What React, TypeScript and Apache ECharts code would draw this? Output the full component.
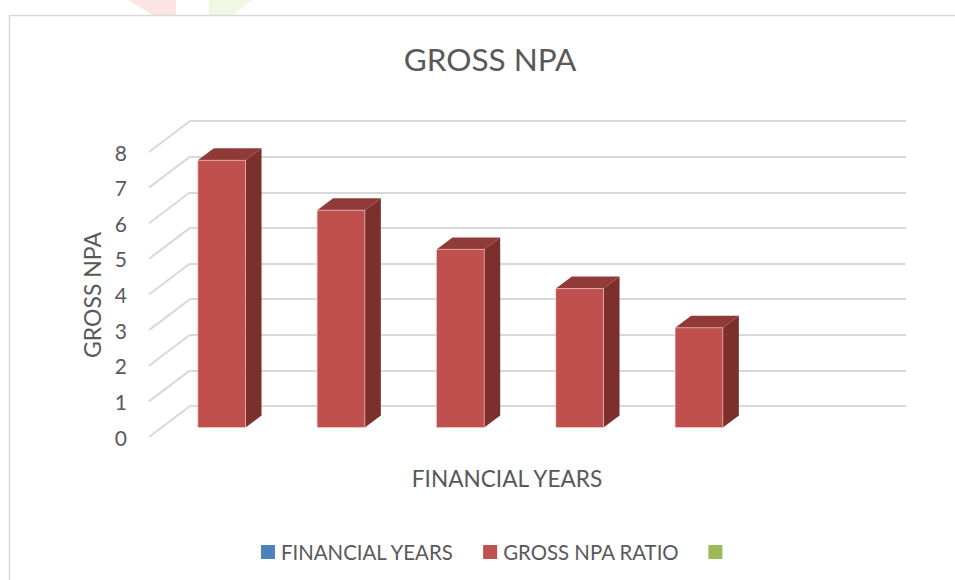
import React, { useEffect, useRef } from "react";
import * as echarts from "echarts";

// ---- data ----
const CATEGORIES = ["FY1", "FY2", "FY3", "FY4", "FY5", "FY6"];
const GROSS_NPA_RATIO = [7.5, 6.1, 5.0, 3.9, 2.8, null];
const Y_TICKS = [0, 1, 2, 3, 4, 5, 6, 7, 8];
const TITLE = "GROSS NPA";
const X_NAME = "FINANCIAL YEARS";
const Y_NAME = "GROSS NPA";
const LEGEND_NAMES = ["FINANCIAL YEARS", "GROSS NPA RATIO", " "];

// ---- style ----
const FONT = "Lato";
const TEXT = "#595959";
const GRID = "#D9D9D9";
const WALL_DX = -41;
const WALL_DY = 31;
const FRONT_DX = -28;
const FRONT_DY = 21.5;
const BAR_DX = 16;
const BAR_DY = -12;
const BAR_FRAC = 0.4;

export default function App() {
  const ref = useRef<HTMLDivElement>(null);
  useEffect(() => {
    const chart = echarts.init(ref.current!, null, { renderer: "svg" });
    const option: any = {
      animation: false,
      backgroundColor: "#fff",
      textStyle: { fontFamily: FONT },
      grid: [
        { left: 190, top: 121, width: 716, height: 285 },
        { left: 149, top: 152, width: 716, height: 285 },
      ],
      xAxis: [
        {
          gridIndex: 0,
          type: "category",
          data: CATEGORIES,
          axisLine: { show: false },
          axisTick: { show: false },
          axisLabel: { show: false },
        },
        {
          gridIndex: 1,
          type: "category",
          data: CATEGORIES,
          show: false,
        },
      ],
      yAxis: [
        {
          gridIndex: 0,
          type: "value",
          min: 0,
          max: 8,
          interval: 1,
          axisLabel: { show: false },
          axisLine: { show: false },
          axisTick: { show: false },
          splitLine: { lineStyle: { color: GRID, width: 2 } },
        },
        {
          gridIndex: 1,
          type: "value",
          min: 0,
          max: 8,
          interval: 1,
          axisLine: { show: false },
          axisTick: { show: false },
          splitLine: { show: false },
          axisLabel: { margin: 22, color: TEXT, fontSize: 21, fontFamily: FONT },
        },
      ],
      legend: {
        left: 261,
        top: 542,
        padding: 0,
        icon: "rect",
        itemWidth: 14,
        itemHeight: 14,
        itemGap: 29,
        textStyle: { color: TEXT, fontSize: 20.4, fontFamily: FONT, padding: [0, 0, 0, 1] },
        data: LEGEND_NAMES,
      },
      series: [
        {
          name: LEGEND_NAMES[0],
          type: "custom",
          color: "#4F81BD",
          itemStyle: { color: "#4F81BD" },
          data: [],
          renderItem: () => ({ type: "group", children: [] }),
        },
        {
          name: "walls",
          type: "custom",
          silent: true,
          data: Y_TICKS.map((v) => [0, v]),
          encode: { x: 0, y: 1 },
          z: 1,
          renderItem: (params: any, api: any) => {
            const p = api.coord([0, api.value(1)]);
            const x0 = params.coordSys.x;
            return {
              type: "line",
              shape: { x1: x0, y1: p[1], x2: x0 + WALL_DX, y2: p[1] + WALL_DY },
              style: { stroke: GRID, lineWidth: 2 },
            };
          },
        },
        {
          name: LEGEND_NAMES[1],
          type: "custom",
          color: "#C0504D",
          itemStyle: { color: "#C0504D" },
          z: 3,
          data: GROSS_NPA_RATIO.map((v, i) => [i, v]),
          encode: { x: 0, y: 1 },
          renderItem: (params: any, api: any) => {
            const v = api.value(1);
            if (v == null || isNaN(v)) return null;
            const idx = api.value(0);
            const top = api.coord([idx, v]);
            const base = api.coord([idx, 0]);
            const bin = api.size([1, 0])[0];
            const w = bin * BAR_FRAC;
            const x0 = top[0] + FRONT_DX - w / 2;
            const x1 = x0 + w;
            const yt = top[1] + FRONT_DY;
            const yb = base[1] + FRONT_DY;
            return {
              type: "group",
              children: [
                {
                  type: "polygon",
                  shape: {
                    points: [
                      [x0, yt],
                      [x1, yt],
                      [x1 + BAR_DX, yt + BAR_DY],
                      [x0 + BAR_DX, yt + BAR_DY],
                    ],
                  },
                  style: { fill: "#913B39" },
                },
                {
                  type: "polygon",
                  shape: {
                    points: [
                      [x1, yt],
                      [x1 + BAR_DX, yt + BAR_DY],
                      [x1 + BAR_DX, yb + BAR_DY],
                      [x1, yb],
                    ],
                  },
                  style: { fill: "#7C302E" },
                },
                {
                  type: "rect",
                  shape: { x: x0, y: yt, width: w, height: yb - yt },
                  style: { fill: "#C0504D", stroke: "rgba(255,220,220,0.5)", lineWidth: 1 },
                },
              ],
            };
          },
        },
        {
          name: LEGEND_NAMES[2],
          type: "custom",
          color: "#9BBB59",
          itemStyle: { color: "#9BBB59" },
          data: [],
          renderItem: () => ({ type: "group", children: [] }),
        },
      ],
      graphic: [
        {
          type: "polygon",
          silent: true,
          shape: { points: [[128, 0], [176, 0], [176, 15], [153, 15]] },
          style: { fill: "#FDE4E4" },
        },
        {
          type: "polygon",
          silent: true,
          shape: { points: [[209, 0], [253, 0], [233, 15], [209, 15]] },
          style: { fill: "#EEF8E4" },
        },
        {
          type: "rect",
          silent: true,
          shape: { x: 9.5, y: 15.5, width: 1000, height: 700 },
          style: { fill: "none", stroke: "#D9D9D9", lineWidth: 1.5 },
        },
        {
          type: "text",
          x: 490,
          y: 59,
          style: {
            text: TITLE,
            fill: TEXT,
            font: `31.5px ${FONT}`,
            textAlign: "center",
            textVerticalAlign: "middle",
          },
        },
        {
          type: "text",
          x: 507,
          y: 478,
          style: {
            text: X_NAME,
            fill: TEXT,
            font: `22.6px ${FONT}`,
            textAlign: "center",
            textVerticalAlign: "middle",
          },
        },
        {
          type: "text",
          x: 91.5,
          y: 295,
          rotation: Math.PI / 2,
          style: {
            text: Y_NAME,
            fill: TEXT,
            font: `23px ${FONT}`,
            textAlign: "center",
            textVerticalAlign: "middle",
          },
        },
      ],
    };
    chart.setOption(option);
    return () => chart.dispose();
  }, []);
  return (
    <div
      ref={ref}
      style={{ position: "absolute", left: 0, top: 0, width: 955, height: 580 }}
    />
  );
}
